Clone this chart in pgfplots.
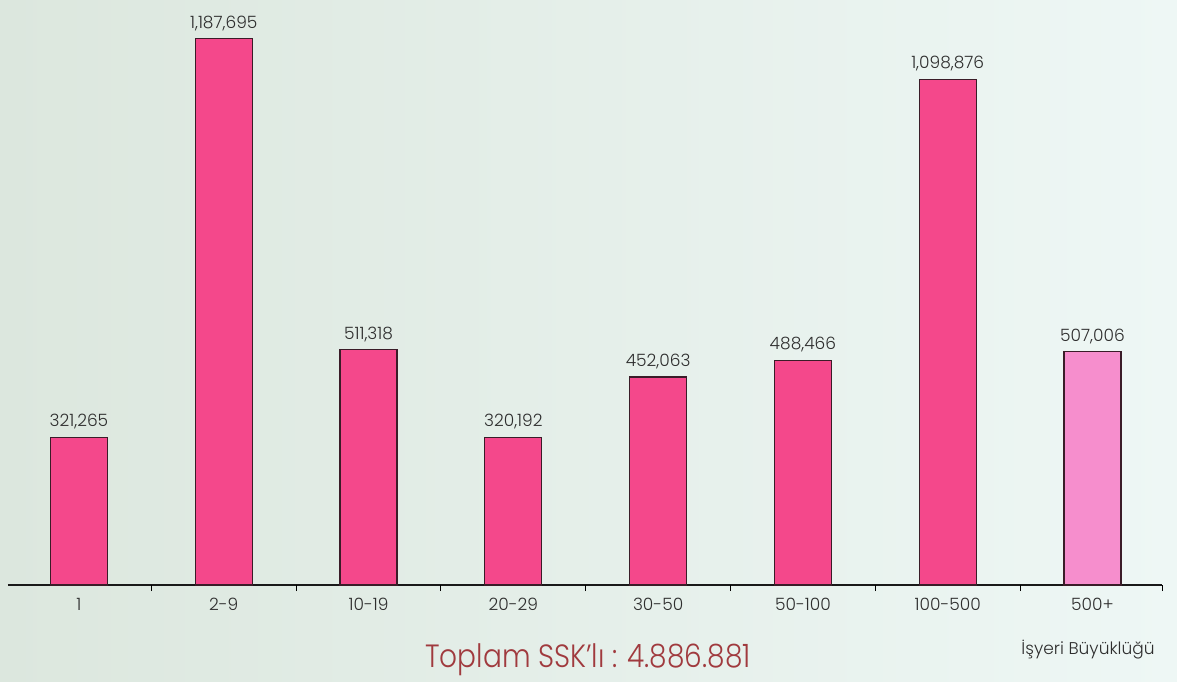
\documentclass[border=0pt]{standalone}
\usepackage{fontspec}
\setmainfont{Poppins}[UprightFont=* Light]
\usepackage{pgfplots}
\usepackage{pgfplotstable}
\pgfplotsset{compat=1.18}
\definecolor{barpink}{HTML}{F4488B}
\definecolor{barlight}{HTML}{F68ECD}
\definecolor{barline}{HTML}{3A1C28}
\definecolor{bgl}{HTML}{DCE7DE}
\definecolor{bgr}{HTML}{EEF7F5}
\definecolor{toplam}{HTML}{A03A3E}
\definecolor{txt}{HTML}{2E2E2E}
\pgfplotstableread{
x y label
0 321265 321,265
1 1187695 1,187,695
2 511318 511,318
3 320192 320,192
4 452063 452,063
5 488466 488,466
6 1098876 1,098,876
}\dataA
\pgfplotstableread{
x y label
7 507006 507,006
}\dataB
\begin{document}
\begin{tikzpicture}
\fill[left color=bgl, right color=bgr] (0,0) rectangle (588.5pt,340.5pt);
\begin{axis}[
 at={(4pt,48pt)}, anchor=south west,
 scale only axis, width=577pt, height=292.5pt,
 xmin=-0.49, xmax=7.48, ymin=0, ymax=1272000,
 axis y line=none, axis x line=bottom,
 x axis line style={-, line width=0.8pt, color=black!90},
 xtick={0,...,7},
 xticklabels={1,2-9,10-19,20-29,30-50,50-100,100-500,500+},
 major tick length=0pt,
 extra x ticks={0.5,1.5,2.5,3.5,4.5,5.5,6.5,7.48},
 extra x tick labels={},
 extra x tick style={major tick length=3pt, tick align=outside, tick style={black, line width=0.5pt}},
 xticklabel style={font=\fontsize{8.5}{10}\selectfont, text=txt, yshift=-3pt},
 ybar, bar width=28.5pt,
 nodes near coords, point meta=explicit symbolic,
 nodes near coords style={font=\fontsize{8.5}{10}\selectfont, text=txt, anchor=south, yshift=0.5pt},
 clip=false,
]
\addplot[bar shift=0pt, fill=barpink, draw=barline, line width=0.6pt] table[x=x,y=y,meta=label]{\dataA};
\addplot[bar shift=0pt, fill=barlight, draw=barline, line width=0.6pt] table[x=x,y=y,meta=label]{\dataB};
\end{axis}
\node[font=\fontsize{14}{16}\selectfont, text=toplam, yscale=1.15] at (294pt,10.5pt) {Toplam SSK'lı : 4.886.881};
\node[font=\fontsize{8.5}{10}\selectfont, text=txt] at (544pt,15.5pt) {İşyeri Büyüklüğü};
\end{tikzpicture}
\end{document}
